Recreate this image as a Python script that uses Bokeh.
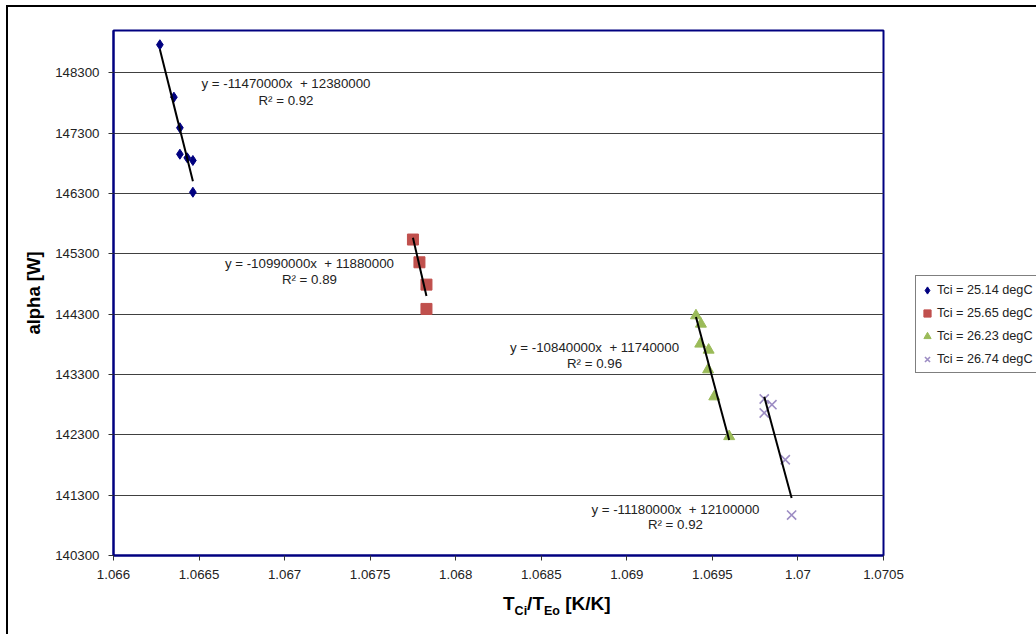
import numpy as np
from bokeh.plotting import figure
from bokeh.layouts import column, row
from bokeh.models import FixedTicker, Range1d, Label, Legend, LegendItem, Div
from bokeh.embed import file_html
from bokeh.resources import INLINE

# ---------------- data ----------------
series_names = ["Tci = 25.14 degC", "Tci = 25.65 degC", "Tci = 26.23 degC", "Tci = 26.74 degC"]

blue_x = [1.066271, 1.066353, 1.066388, 1.066388, 1.066431, 1.066464, 1.066464]
blue_y = [148764, 147895, 147388, 146950, 146890, 146846, 146320]

red_x = [1.067750, 1.067788, 1.067829, 1.067829]
red_y = [145536, 145159, 144789, 144386]

green_x = [1.069404, 1.069433, 1.069429, 1.069478, 1.069475, 1.069511, 1.069598]
green_y = [144275, 144137, 143806, 143706, 143380, 142932, 142273]

purple_x = [1.069803, 1.069848, 1.069803, 1.069926, 1.069963]
purple_y = [142894, 142799, 142662, 141887, 140970]

equations = ["y = -11470000x  + 12380000", "y = -10990000x  + 11880000",
             "y = -10840000x  + 11740000", "y = -11180000x  + 12100000"]
r2_texts = ["R\u00b2 = 0.92", "R\u00b2 = 0.89", "R\u00b2 = 0.96", "R\u00b2 = 0.92"]

x_ticks = [1.066, 1.0665, 1.067, 1.0675, 1.068, 1.0685, 1.069, 1.0695, 1.07, 1.0705]
x_tick_labels = ["1.066", "1.0665", "1.067", "1.0675", "1.068", "1.0685", "1.069", "1.0695", "1.07", "1.0705"]
y_ticks = [140300, 141300, 142300, 143300, 144300, 145300, 146300, 147300, 148300]
y_tick_labels = ["140300", "141300", "142300", "143300", "144300", "145300", "146300", "147300", "148300"]

# ---------------- styling ----------------
FONT = "Liberation Sans"
NAVY = "#000080"
TXT = "#222222"

p = figure(width=907, height=583,
           x_range=Range1d(1.066, 1.0705), y_range=Range1d(140300, 149000),
           output_backend="svg", toolbar_location=None,
           min_border_left=105, min_border_right=32, min_border_top=23, min_border_bottom=35)
p.margin = (0, 0, 0, 0)
p.background_fill_color = "white"
p.border_fill_color = "white"
p.outline_line_color = NAVY
p.outline_line_width = 2

p.xaxis.ticker = FixedTicker(ticks=x_ticks)
p.xaxis.major_label_overrides = {t: l for t, l in zip(x_ticks, x_tick_labels)}
p.yaxis.ticker = FixedTicker(ticks=y_ticks)
p.yaxis.major_label_overrides = {t: l for t, l in zip(y_ticks, y_tick_labels)}

p.axis.axis_line_color = NAVY
p.axis.axis_line_width = 2
p.axis.major_tick_out = 5
p.axis.major_tick_in = 0
p.axis.major_tick_line_color = "#333333"
p.axis.minor_tick_line_color = None
p.axis.major_label_text_font = FONT
p.axis.major_label_text_font_size = "13.3px"
p.axis.major_label_text_color = TXT
p.xaxis.major_label_standoff = 9
p.yaxis.major_label_standoff = 9

p.yaxis.axis_label = "alpha [W]"
p.yaxis.axis_label_text_font = FONT
p.yaxis.axis_label_text_font_style = "bold"
p.yaxis.axis_label_text_font_size = "18.5px"
p.yaxis.axis_label_text_color = "black"
p.yaxis.axis_label_standoff = 8

p.xgrid.visible = False
p.ygrid.ticker = FixedTicker(ticks=y_ticks)
p.ygrid.grid_line_color = "#404040"
p.ygrid.grid_line_width = 1

# ---------------- series ----------------
xs = [blue_x, red_x, green_x, purple_x]
ys = [blue_y, red_y, green_y, purple_y]
markers = ["diamond", "square", "triangle", "x"]
colors = ["#000080", "#C0504D", "#9BBB59", "#9D8DC4"]
sizes = [10, 11, 11, 13]

for x, y, m, c, s in zip(xs, ys, markers, colors, sizes):
    p.scatter(x, y, marker=m, size=s, fill_color=c, line_color=c,
              line_width=1.6 if m == "x" else 1)

# trendlines (least squares over each series, across its x span)
for x, y in zip(xs, ys):
    k, b = np.polyfit(np.array(x), np.array(y), 1)
    xe = np.array([min(x), max(x)])
    p.line(xe, k * xe + b, line_color="black", line_width=2)

# equation labels (data positions)
eq_pos = [(1.067008, 148118, 147835), (1.067145, 145137, 144872),
          (1.068811, 143744, 143479), (1.069284, 141058, 140809)]
for (lx, ly1, ly2), eq, r2 in zip(eq_pos, equations, r2_texts):
    for yy, t in ((ly1, eq.replace("  ", "\u00a0 ")), (ly2, r2)):
        p.add_layout(Label(x=lx, y=yy, text=t, text_align="center", text_baseline="middle",
                           text_font=FONT, text_font_size="13.3px", text_color=TXT))

# legend: a small companion figure carrying the same series (out of its view range)
lf = figure(title=None, width=121, height=300, output_backend="svg", toolbar_location=None,
            x_axis_location=None, y_axis_location=None,
            x_range=Range1d(0, 1), y_range=Range1d(0, 1),
            min_border=0, margin=(245, 0, 0, 0))
lf.grid.visible = False
lf.outline_line_color = None
lf.background_fill_color = "white"
lf.border_fill_color = "white"
lrs = []
for x, y, m, c, s in zip(xs, ys, markers, colors, sizes):
    lrs.append(lf.scatter(x, y, marker=m, size=s, fill_color=c, line_color=c,
                          line_width=1.6 if m == "x" else 1))
legend = Legend(items=[LegendItem(label=n, renderers=[r]) for n, r in zip(series_names, lrs)],
                location="top_left", orientation="vertical",
                label_text_font=FONT, label_text_font_size="12.7px", label_text_color=TXT,
                label_height=23, glyph_height=22, glyph_width=18, label_standoff=1,
                spacing=0, padding=2, margin=0, label_width=98,
                border_line_color="black", border_line_width=1,
                background_fill_color="white", background_fill_alpha=1)
lf.add_layout(legend)

# x-axis title with subscripts
xtitle = Div(text=('<span style="font-family:\'Liberation Sans\';font-weight:bold;font-size:19px;'
                   'color:black;white-space:nowrap;line-height:20px">'
                   'T<sub style="font-size:12.5px">Ci</sub>/T<sub style="font-size:12.5px">Eo</sub> [K/K]</span>'),
             width=200, height=40, margin=(4, 0, 0, 495))

layout = column(row(p, lf), xtitle, margin=(5, 0, 0, 6),
                styles={"border-left": "2px solid black", "border-top": "2px solid black",
                        "background-color": "white"})

open("out.html", "w").write(file_html(layout, INLINE))
